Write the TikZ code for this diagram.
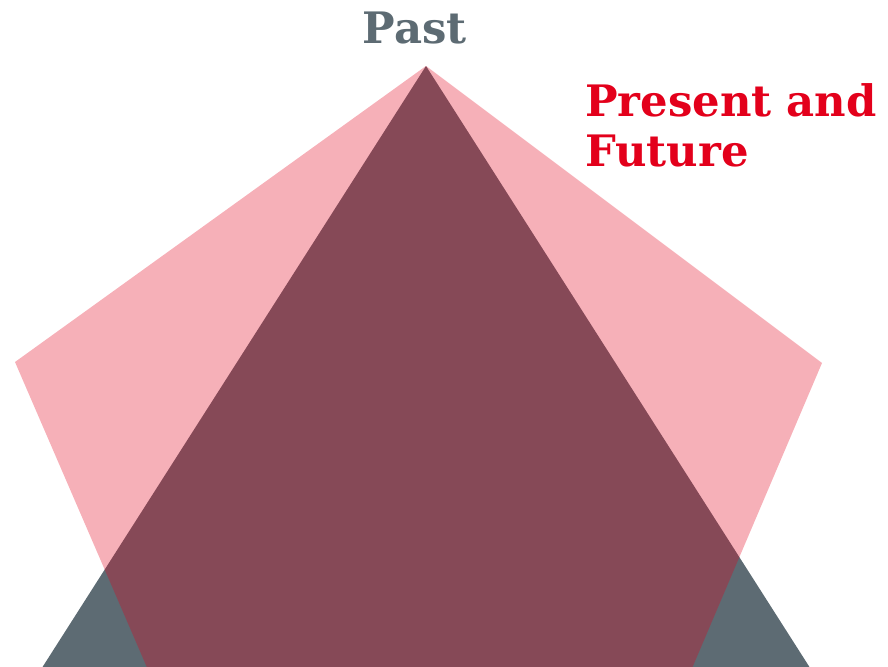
\documentclass[tikz,border=0pt]{standalone}
\usepackage{fontspec}
\setmainfont{DejaVu Serif}
\usepackage{xcolor}
\definecolor{slategray}{RGB}{93,107,115}
\definecolor{brandred}{RGB}{227,0,27}

\begin{document}
\begin{tikzpicture}[x=0.03cm, y=-0.03cm,
  tri/.style={fill=slategray},
  penta/.style={fill=brandred, fill opacity=0.31},
  title/.style={font=\bfseries\fontsize{37}{42.7}\selectfont, inner sep=0pt}]

  \useasboundingbox (0,0) rectangle (888,667);
  \clip (0,0) rectangle (888,667);

  %% Past (triangle)
  \coordinate (top) at (426,66);
  \fill[tri] (top) -- (-20,765) -- (872,765) -- cycle;

  %% Present and future (pentagon)
  \fill[penta] (top) -- (822,363) -- (650,767) -- (190,767) -- (15,362) -- cycle;

  %% labels
  \node[title, text=slategray, anchor=base] (past) at (414.5,43) {Past};
  \node[title, text=brandred, anchor=north west, align=left] (present) at (585,83)
    {Present and\\Future};
\end{tikzpicture}
\end{document}
